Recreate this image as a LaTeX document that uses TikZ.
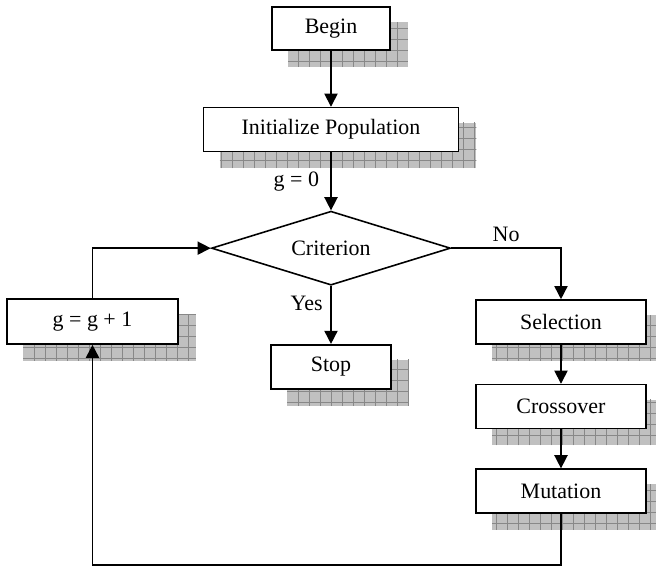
\documentclass[tikz,border=0pt]{standalone}
\usepackage{fontspec}
\setmainfont{Liberation Serif}
\usepackage{tikz}
\usetikzlibrary{shapes.geometric, arrows.meta, positioning, calc, backgrounds}
\definecolor{shadowfill}{HTML}{C0C0C0}
\definecolor{shadowline}{HTML}{888888}
% grid shadow behind a named box
\newcommand{\gridshadow}[1]{%
  \begin{scope}[on background layer]
    \fill[shadowfill] ($(#1.south west)+(0.34,-0.32)$) rectangle ($(#1.north east)+(0.34,-0.32)$);
    \begin{scope}
      \clip ($(#1.south west)+(0.34,-0.32)$) rectangle ($(#1.north east)+(0.34,-0.32)$);
      \draw[shadowline, line width=0.5pt, step=0.22cm]
        ($(#1.south west)+(0.34,-0.32)$) grid ($(#1.north east)+(0.6,-0.1)$);
    \end{scope}
  \end{scope}}

\begin{document}
\begin{tikzpicture}[
    node distance=1.12cm,
    every node/.style={font=\fontsize{12.5}{14}\selectfont},
    box/.style={rectangle, draw=black, fill=white, line width=0.9pt,
                minimum height=0.88cm, inner sep=2pt},
    decision/.style={diamond, aspect=3.2, draw=black, fill=white, line width=0.9pt,
                     minimum width=4.78cm, minimum height=1.48cm, inner sep=0pt},
    arrow/.style={-{Triangle[length=7.5pt, width=7.5pt]}, line width=0.9pt},
    line/.style={line width=0.9pt}
]
\useasboundingbox (-6.62,0.57) rectangle (6.5,-10.75);

% Main column
\node[box, minimum width=2.36cm, minimum height=0.86cm] (begin) at (0,0) {Begin};
\node[box, minimum width=5.1cm, below=1.12cm of begin] (init) {Initialize Population};
\node[decision, below=1.16cm of init] (crit) {Criterion};
\node[box, minimum width=2.4cm, below=1.16cm of crit] (stop) {Stop};

% Loop counter
\node[box, minimum width=3.42cm, minimum height=0.9cm] (incr) at (-4.77,-5.86) {g = g + 1};

% Operators
\node[box, minimum width=3.4cm] (sel) at (4.6,-5.87) {Selection};
\node[box, minimum width=3.4cm, below=0.78cm of sel] (cross) {Crossover};
\node[box, minimum width=3.4cm, below=0.78cm of cross] (mut) {Mutation};
\coordinate[below=1.02cm of mut] (loop);

% Shadows
\gridshadow{begin}
\gridshadow{init}
\gridshadow{stop}
\gridshadow{incr}
\gridshadow{sel}
\gridshadow{cross}
\gridshadow{mut}

% Arrows
\draw[arrow] (begin) -- (init);
\draw[arrow] (init) -- node[left=3pt, pos=0.5] (g0) {g = 0} (crit);
\draw[arrow] (crit) -- node[left=1pt, pos=0.3] (yes) {Yes} (stop);
\draw[arrow] (crit.east) -- node[above=0pt, pos=0.5] (no) {No} (crit.east -| sel.north) -- (sel.north);
\draw[arrow] (sel) -- (cross);
\draw[arrow] (cross) -- (mut);
\draw[arrow] (mut.south) -- (mut.south |- loop) -- (incr.south |- loop) -- (incr.south);
\draw[arrow] (incr.north) -- (incr.north |- crit.west) -- (crit.west);

\end{tikzpicture}
\end{document}
